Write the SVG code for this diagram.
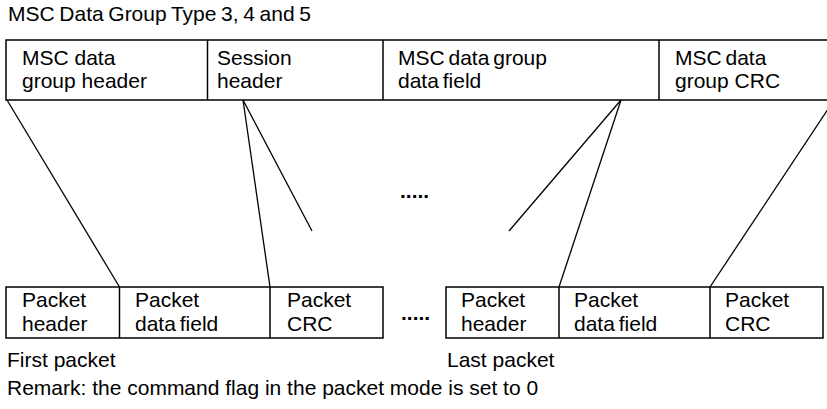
<svg xmlns="http://www.w3.org/2000/svg" width="827" height="409" viewBox="0 0 827 409">
<style>
text{font-family:"Liberation Sans",Arial,Helvetica,sans-serif;font-size:21px;fill:#000}
.dots{font-weight:bold}
.box{fill:#fff;stroke:#000;stroke-width:1.5}
.div{stroke:#000;stroke-width:1.5}
.con{stroke:#000;stroke-width:1.3;fill:none}
</style>
<rect width="827" height="409" fill="#fff"/>
<text id="title" x="8" y="21" word-spacing="-1.2">MSC Data Group Type 3, 4 and 5</text>
<g id="msc-data-group">
<rect class="box" x="6" y="40" width="830" height="60"/>
<line class="div" x1="207.5" y1="40" x2="207.5" y2="100"/>
<line class="div" x1="383" y1="40" x2="383" y2="100"/>
<line class="div" x1="659" y1="40" x2="659" y2="100"/>
</g>
<g id="msc-header"><text x="22" y="65">MSC data</text><text x="22" y="88">group header</text></g>
<g id="session-header"><text x="217" y="65">Session</text><text x="217" y="88">header</text></g>
<g id="msc-data-field"><text x="398" y="65" word-spacing="-2">MSC data group</text><text x="398" y="88" word-spacing="-2">data field</text></g>
<g id="msc-crc"><text x="675" y="65" word-spacing="-2">MSC data</text><text x="675" y="88">group CRC</text></g>
<g id="first-packet">
<rect class="box" x="6" y="287" width="377" height="51"/>
<line class="div" x1="119.5" y1="287" x2="119.5" y2="338"/>
<line class="div" x1="270" y1="287" x2="270" y2="338"/>
<text x="22" y="307">Packet</text><text x="22" y="331">header</text>
<text x="135" y="307">Packet</text><text x="135" y="331" word-spacing="-2">data field</text>
<text x="287" y="307">Packet</text><text x="287" y="331">CRC</text>
<text x="7" y="367">First packet</text>
</g>
<g id="last-packet">
<rect class="box" x="446" y="287" width="377" height="51"/>
<line class="div" x1="559" y1="287" x2="559" y2="338"/>
<line class="div" x1="710" y1="287" x2="710" y2="338"/>
<text x="461" y="307">Packet</text><text x="461" y="331">header</text>
<text x="574" y="307">Packet</text><text x="574" y="331" word-spacing="-2">data field</text>
<text x="725" y="307">Packet</text><text x="725" y="331">CRC</text>
<text x="447" y="367">Last packet</text>
</g>
<g id="connectors">
<line class="con" x1="7" y1="100" x2="119.5" y2="287"/>
<line class="con" x1="243" y1="100" x2="270" y2="287"/>
<line class="con" x1="243" y1="100" x2="312" y2="231"/>
<line class="con" x1="621" y1="100" x2="509" y2="231"/>
<line class="con" x1="621" y1="100" x2="559" y2="287"/>
<line class="con" x1="834" y1="100" x2="710" y2="287"/>
</g>
<text id="dots-mid" class="dots" x="400" y="198" font-size="19">.....</text>
<text id="dots-low" class="dots" x="401" y="320" font-size="19">.....</text>
<text id="remark" x="7" y="395">Remark: the command flag in the packet mode is set to 0</text>
</svg>
